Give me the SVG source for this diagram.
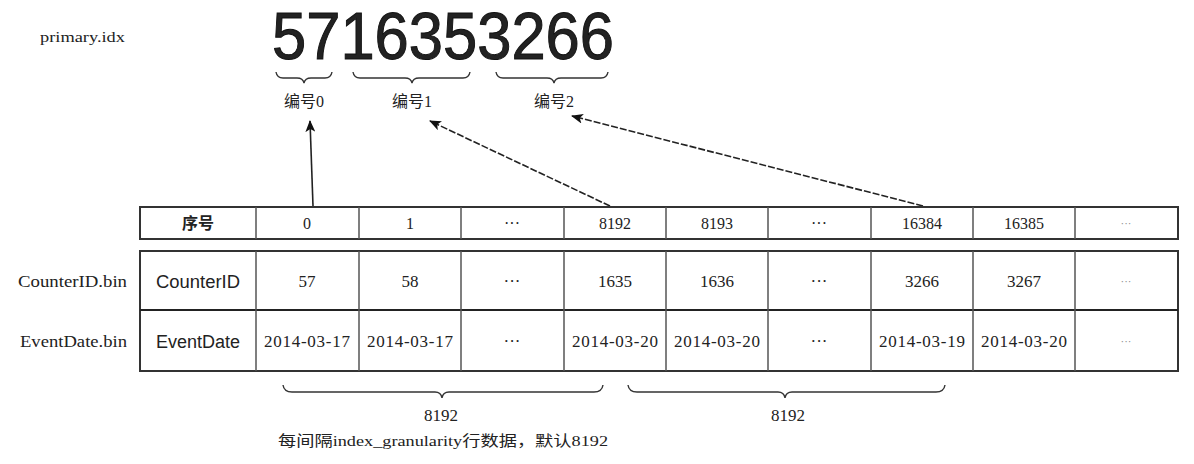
<svg xmlns="http://www.w3.org/2000/svg" width="1194" height="464" viewBox="0 0 1194 464">
<defs>
<style>
.serif{font-family:"Liberation Serif","Noto Sans CJK SC",serif;fill:#222}
.sans{font-family:"Liberation Sans","Noto Sans CJK SC",sans-serif;fill:#222}
.cell{font-size:16px;text-anchor:middle}
.date{font-size:17px;text-anchor:middle}
.grid{fill:none;stroke:#333;stroke-width:2}
.vline{stroke:#555;stroke-width:1.5}
.brace{fill:none;stroke:#333;stroke-width:1.4}
.arrow{fill:none;stroke:#222;stroke-width:1.6}
.dash{stroke-dasharray:7 2}
.faint{fill:#888;font-size:11px;text-anchor:middle}
</style>
<marker id="ah" viewBox="0 0 12 10" refX="11" refY="5" markerWidth="12" markerHeight="10" markerUnits="userSpaceOnUse" orient="auto">
<path d="M0,0 L12,5 L0,10 L3,5 Z" fill="#111"/>
</marker>
</defs>
<rect width="1194" height="464" fill="#fff"/>

<g id="primary-idx">
<text class="serif" x="40" y="42" font-size="15" textLength="85" lengthAdjust="spacingAndGlyphs">primary.idx</text>
<text class="sans" x="272" y="59" font-size="67" textLength="342" lengthAdjust="spacingAndGlyphs" fill="#111" stroke="#111" stroke-width="1">5716353266</text>
</g>

<g id="mark-braces">
<path class="brace" d="M276,72 Q277,78 283,78 L297,78 Q303,78 304,83 Q305,78 311,78 L325,78 Q331,78 332,72"/>
<path class="brace" d="M353,72 Q354,78 360,78 L405,78 Q411,78 412,83 Q413,78 419,78 L463,78 Q469,78 470,72"/>
<path class="brace" d="M496,72 Q497,78 503,78 L547,78 Q553,78 554,83 Q555,78 561,78 L601,78 Q607,78 608,72"/>
</g>

<g id="mark0"><text class="serif" x="304" y="107" font-size="16" text-anchor="middle">编号0</text></g>
<g id="mark1"><text class="serif" x="412" y="107" font-size="16" text-anchor="middle">编号1</text></g>
<g id="mark2"><text class="serif" x="554" y="107" font-size="16" text-anchor="middle">编号2</text></g>

<g id="connectors">
<line class="arrow" x1="313" y1="206" x2="310" y2="121" marker-end="url(#ah)"/>
<line class="arrow dash" x1="610" y1="206" x2="430" y2="121" marker-end="url(#ah)"/>
<line class="arrow dash" x1="923" y1="206" x2="572" y2="116" marker-end="url(#ah)"/>
</g>

<g id="index-row">
<rect class="grid" x="140" y="207" width="1038" height="32"/>
<line class="vline" x1="256" y1="207" x2="256" y2="239"/>
<line class="vline" x1="359" y1="207" x2="359" y2="239"/>
<line class="vline" x1="461" y1="207" x2="461" y2="239"/>
<line class="vline" x1="564" y1="207" x2="564" y2="239"/>
<line class="vline" x1="666" y1="207" x2="666" y2="239"/>
<line class="vline" x1="768" y1="207" x2="768" y2="239"/>
<line class="vline" x1="871" y1="207" x2="871" y2="239"/>
<line class="vline" x1="973" y1="207" x2="973" y2="239"/>
<line class="vline" x1="1075" y1="207" x2="1075" y2="239"/>
<text class="sans cell" x="198" y="229" font-weight="bold" fill="#444">序号</text>
<text class="serif cell" x="307" y="229">0</text>
<text class="serif cell" x="410" y="229">1</text>
<text class="serif cell" x="512" y="229">···</text>
<text class="serif cell" x="615" y="229">8192</text>
<text class="serif cell" x="717" y="229">8193</text>
<text class="serif cell" x="819" y="229">···</text>
<text class="serif cell" x="922" y="229">16384</text>
<text class="serif cell" x="1024" y="229">16385</text>
<text class="serif faint" x="1126" y="227">···</text>
</g>

<g id="data-table">
<rect class="grid" x="140" y="251" width="1038" height="120"/>
<line x1="140" y1="310" x2="1178" y2="310" stroke="#222" stroke-width="2"/>
<line class="vline" x1="256" y1="251" x2="256" y2="371"/>
<line class="vline" x1="359" y1="251" x2="359" y2="371"/>
<line class="vline" x1="461" y1="251" x2="461" y2="371"/>
<line class="vline" x1="564" y1="251" x2="564" y2="371"/>
<line class="vline" x1="666" y1="251" x2="666" y2="371"/>
<line class="vline" x1="768" y1="251" x2="768" y2="371"/>
<line class="vline" x1="871" y1="251" x2="871" y2="371"/>
<line class="vline" x1="973" y1="251" x2="973" y2="371"/>
<line class="vline" x1="1075" y1="251" x2="1075" y2="371"/>
</g>

<g id="counterid-row">
<text class="serif" x="18" y="287" font-size="16" textLength="109" lengthAdjust="spacingAndGlyphs">CounterID.bin</text>
<text class="sans" x="198" y="288" font-size="18" text-anchor="middle" textLength="84" lengthAdjust="spacingAndGlyphs">CounterID</text>
<text class="serif date" x="307" y="287">57</text>
<text class="serif date" x="410" y="287">58</text>
<text class="serif date" x="512" y="287">···</text>
<text class="serif date" x="615" y="287">1635</text>
<text class="serif date" x="717" y="287">1636</text>
<text class="serif date" x="819" y="287">···</text>
<text class="serif date" x="922" y="287">3266</text>
<text class="serif date" x="1024" y="287">3267</text>
<text class="serif faint" x="1126" y="285">···</text>
</g>

<g id="eventdate-row">
<text class="serif" x="20" y="347" font-size="16" textLength="107" lengthAdjust="spacingAndGlyphs">EventDate.bin</text>
<text class="sans" x="198" y="348" font-size="18" text-anchor="middle" textLength="84" lengthAdjust="spacingAndGlyphs">EventDate</text>
<text class="serif date" x="307" y="347" textLength="86">2014-03-17</text>
<text class="serif date" x="410" y="347" textLength="86">2014-03-17</text>
<text class="serif date" x="512" y="347">···</text>
<text class="serif date" x="615" y="347" textLength="86">2014-03-20</text>
<text class="serif date" x="717" y="347" textLength="86">2014-03-20</text>
<text class="serif date" x="819" y="347">···</text>
<text class="serif date" x="922" y="347" textLength="86">2014-03-19</text>
<text class="serif date" x="1024" y="347" textLength="86">2014-03-20</text>
<text class="serif faint" x="1126" y="345">···</text>
</g>

<g id="granule-braces">
<path class="brace" d="M283,385 Q284,392 292,392 L435,392 Q441,392 442,398 Q443,392 449,392 L594,392 Q602,392 603,385"/>
<path class="brace" d="M628,385 Q629,392 637,392 L778,392 Q784,392 785,398 Q786,392 792,392 L936,392 Q944,392 945,385"/>
<text class="serif" x="441" y="421" font-size="17" text-anchor="middle">8192</text>
<text class="serif" x="788" y="421" font-size="17" text-anchor="middle">8192</text>
</g>

<g id="note">
<text class="serif" x="278" y="446" font-size="15" textLength="330" lengthAdjust="spacingAndGlyphs">每间隔index_granularity行数据，默认8192</text>
</g>
</svg>
